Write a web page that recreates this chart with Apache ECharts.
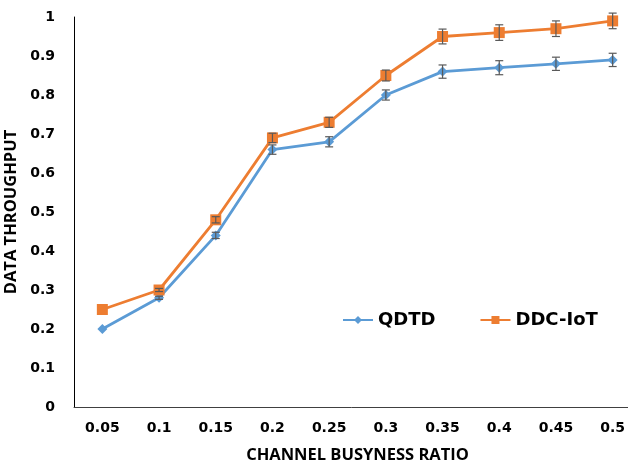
<!DOCTYPE html>
<html>
<head>
<meta charset="utf-8">
<script src="https://cdn.jsdelivr.net/npm/echarts@6/dist/echarts.min.js"></script>
<style>
    html, body { margin: 0; padding: 0; background: #fff; }
    #chart { width: 628px; height: 461px; }
</style>
</head>
<body>
<div id="chart"></div>
<script>
// x categories (channel busyness ratio)
var categories = ['0.05', '0.1', '0.15', '0.2', '0.25', '0.3', '0.35', '0.4', '0.45', '0.5'];
// data throughput
var qdtd = [0.20, 0.28, 0.44, 0.66, 0.68, 0.80, 0.86, 0.87, 0.88, 0.89];
var ddcIot = [0.25, 0.30, 0.48, 0.69, 0.73, 0.85, 0.95, 0.96, 0.97, 0.99];
// error bar half widths
var qdtdErr = [0, 0.004, 0.008, 0.012, 0.013, 0.013, 0.017, 0.018, 0.017, 0.017];
var ddcIotErr = [0, 0.004, 0.008, 0.012, 0.013, 0.014, 0.019, 0.02, 0.02, 0.02];

var tickFont = '"DejaVu Sans", sans-serif';
var titleFont = '"Open Sans", "DejaVu Sans", sans-serif';

function errorBars(values, errs) {
    return {
        type: 'custom',
        z: 5,
        silent: true,
        data: values.map(function (v, i) { return [i, v - errs[i], v + errs[i]]; }),
        renderItem: function (params, api) {
            if (api.value(2) - api.value(1) <= 0) {
                return null;
            }
            var lo = api.coord([api.value(0), api.value(1)]);
            var hi = api.coord([api.value(0), api.value(2)]);
            var hw = 4;
            var style = { stroke: '#595959', lineWidth: 1.2 };
            return {
                type: 'group',
                children: [
                    { type: 'line', shape: { x1: lo[0], y1: lo[1], x2: hi[0], y2: hi[1] }, style: style },
                    { type: 'line', shape: { x1: lo[0] - hw, y1: lo[1], x2: lo[0] + hw, y2: lo[1] }, style: style },
                    { type: 'line', shape: { x1: hi[0] - hw, y1: hi[1], x2: hi[0] + hw, y2: hi[1] }, style: style }
                ]
            };
        }
    };
}

var chart = echarts.init(document.getElementById('chart'));
chart.setOption({
    animation: false,
    textStyle: { fontFamily: titleFont },
    grid: { left: 74, top: 17, width: 567, height: 390, outerBoundsMode: 'none', containLabel: false },
    legend: {
        data: ['QDTD', 'DDC-IoT'],
        left: 337,
        top: 306,
        itemGap: 44,
        itemWidth: 30,
        itemHeight: 10,
        textStyle: { fontSize: 18, fontWeight: 'bold', color: '#000', fontFamily: tickFont }
    },
    xAxis: {
        type: 'category',
        data: categories,
        boundaryGap: true,
        name: 'CHANNEL BUSYNESS RATIO',
        nameLocation: 'middle',
        nameGap: 40,
        nameTextStyle: { fontSize: 16.5, fontWeight: 'bold', color: '#000', fontFamily: titleFont },
        axisLine: { lineStyle: { color: '#404040', width: 1 } },
        axisTick: { show: false },
        axisLabel: { fontSize: 14, fontWeight: 'bold', color: '#000', margin: 14, fontFamily: tickFont },
        splitLine: { show: false }
    },
    yAxis: {
        type: 'value',
        min: 0,
        max: 1,
        interval: 0.1,
        name: 'DATA THROUGHPUT',
        nameLocation: 'middle',
        nameGap: 44,
        nameRotate: 90,
        nameTextStyle: { fontSize: 16.5, fontWeight: 'bold', color: '#000', fontFamily: titleFont },
        axisLine: { show: true, lineStyle: { color: '#000', width: 1 } },
        axisTick: { show: false },
        axisLabel: { fontSize: 14, fontWeight: 'bold', color: '#000', margin: 19, fontFamily: tickFont },
        splitLine: { show: false }
    },
    series: [
        {
            name: 'QDTD',
            type: 'line',
            data: qdtd,
            symbol: 'diamond',
            symbolSize: 10,
            lineStyle: { color: '#5B9BD5', width: 2.8 },
            itemStyle: { color: '#5B9BD5' },
            z: 3
        },
        {
            name: 'DDC-IoT',
            type: 'line',
            data: ddcIot,
            symbol: 'rect',
            symbolSize: 11,
            lineStyle: { color: '#ED7D31', width: 2.8 },
            itemStyle: { color: '#ED7D31' },
            z: 3
        },
        errorBars(qdtd, qdtdErr),
        errorBars(ddcIot, ddcIotErr)
    ]
});
</script>
</body>
</html>
